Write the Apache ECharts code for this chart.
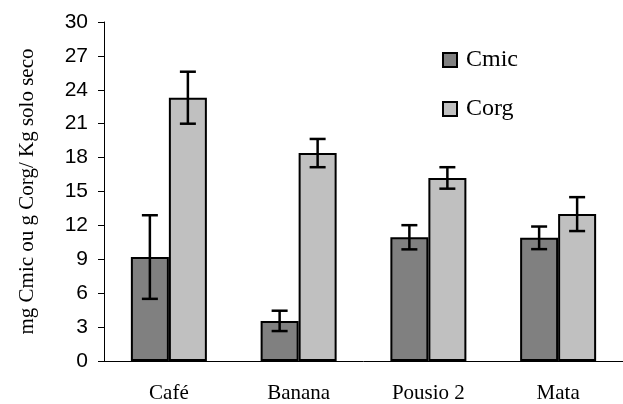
<!DOCTYPE html>
<html><head><meta charset="utf-8">
<script src="https://cdn.jsdelivr.net/npm/echarts@6/dist/echarts.min.js"></script>
<style>html,body{margin:0;padding:0;background:#fff}#c{width:623px;height:404px}</style>
</head><body><div id="c"></div>
<script>
var categories = ['Café', 'Banana', 'Pousio 2', 'Mata'];
var cmic = [9.2, 3.55, 10.95, 10.9];
var cmicErr = [3.7, 0.9, 1.07, 1.0];
var corg = [23.3, 18.4, 16.2, 13.0];
var corgErr = [2.3, 1.25, 0.95, 1.5];
var yTicks = {min: 0, max: 30, interval: 3};

var BW = 38;
function errSeries(vals, errs, side) {
  var data = vals.map(function (v, i) { return [i, v - errs[i], v + errs[i]]; });
  return {
    type: 'custom', z: 10, silent: true,
    data: data,
    renderItem: function (params, api) {
      var lo = api.coord([api.value(0), api.value(1)]);
      var hi = api.coord([api.value(0), api.value(2)]);
      var x = lo[0] + side * BW / 2;
      var cw = 8;
      var st = {stroke: '#000', lineWidth: 2.5};
      return {type: 'group', children: [
        {type: 'line', shape: {x1: x, y1: lo[1], x2: x, y2: hi[1]}, style: st},
        {type: 'line', shape: {x1: x - cw, y1: lo[1], x2: x + cw, y2: lo[1]}, style: st},
        {type: 'line', shape: {x1: x - cw, y1: hi[1], x2: x + cw, y2: hi[1]}, style: st}
      ]};
    }
  };
}

var chart = echarts.init(document.getElementById('c'));
chart.setOption({
  animation: false,
  backgroundColor: '#fff',
  grid: {left: 104, top: 22, width: 528, height: 339},
  legend: {
    orient: 'vertical', left: 442, top: 48, padding: 0,
    itemWidth: 14, itemHeight: 14, itemGap: 25, icon: 'rect',
    data: ['Cmic', 'Corg'],
    textStyle: {fontFamily: 'Liberation Serif', fontSize: 24, color: '#000', lineHeight: 24, padding: [0, 0, 0, 4]}
  },
  xAxis: {
    type: 'category', data: categories,
    axisLine: {lineStyle: {color: '#000', width: 1}},
    axisTick: {length: 7, lineStyle: {color: '#000'}},
    axisLabel: {fontFamily: 'Liberation Serif', fontSize: 21, color: '#000', margin: 22}
  },
  yAxis: {
    type: 'value', min: yTicks.min, max: yTicks.max, interval: yTicks.interval,
    name: 'mg Cmic ou g Corg/ Kg solo seco', nameLocation: 'middle', nameGap: 66,
    nameTextStyle: {fontFamily: 'Liberation Serif', fontSize: 21, color: '#000'},
    axisLine: {show: true, lineStyle: {color: '#000', width: 1}},
    axisTick: {show: true, length: 6, lineStyle: {color: '#000'}},
    splitLine: {show: false},
    axisLabel: {fontFamily: 'Liberation Sans', fontSize: 21, color: '#000', margin: 16}
  },
  series: [
    {name: 'Cmic', type: 'bar', data: cmic, barWidth: BW, barGap: '0%',
     itemStyle: {color: '#808080', borderColor: '#000', borderWidth: 2}},
    {name: 'Corg', type: 'bar', data: corg, barWidth: BW, barGap: '0%',
     itemStyle: {color: '#c0c0c0', borderColor: '#000', borderWidth: 2}},
    errSeries(cmic, cmicErr, -1),
    errSeries(corg, corgErr, 1)
  ]
});
</script></body></html>
